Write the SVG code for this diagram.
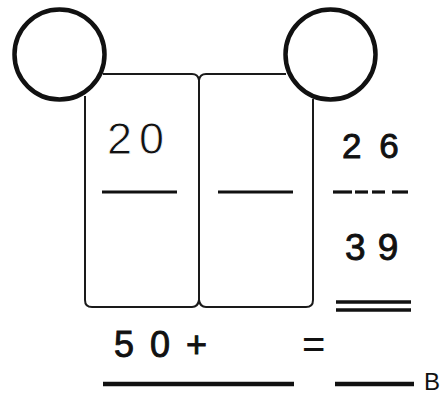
<svg xmlns="http://www.w3.org/2000/svg" width="441" height="397" viewBox="0 0 441 397">
<style>
.c{fill:none;stroke:#111;stroke-width:4.5}
.box{fill:none;stroke:#1a1a1a;stroke-width:2}
.ln{stroke:#111;stroke-width:3.2}
.bl{stroke:#111;stroke-width:4.5}
.t{font-family:"Liberation Sans",Arial,sans-serif;fill:#111}
.b{stroke:#111;stroke-width:0.9}
</style>
<rect width="441" height="397" fill="#fff"/>
<g id="connectors">
<path class="box" d="M103,74 H192 Q198,74 199,80 Q200,74 206,74 H286"/>
<path class="box" d="M85,96 V300 Q85,307 92,307 H192 Q198,307 199,300 Q200,307 206,307 H306 Q313,307 313,300 V99"/>
<path class="box" d="M199,80 V300"/>
</g>
<g id="circle-left"><circle class="c" cx="59.5" cy="54.5" r="45"/></g>
<g id="circle-right"><circle class="c" cx="330.5" cy="54.5" r="45"/></g>
<g id="box-left">
<text class="t" x="107" y="154" font-size="45" letter-spacing="7" style="stroke:#fff;stroke-width:0.8">20</text>
<line class="ln" x1="102" y1="192" x2="177" y2="192"/>
</g>
<g id="box-right">
<line class="ln" x1="218" y1="192" x2="293" y2="192"/>
</g>
<g id="column">
<text class="t b" x="342" y="158" font-size="35" letter-spacing="4">2 6</text>
<g class="ln">
<line x1="333" y1="192" x2="352" y2="192"/>
<line x1="355" y1="192" x2="368" y2="192"/>
<line x1="372" y1="192" x2="385" y2="192"/>
<line x1="392" y1="192" x2="408" y2="192"/>
</g>
<text class="t b" x="345" y="260" font-size="37" letter-spacing="1">3 9</text>
<line class="ln" x1="336" y1="302" x2="411" y2="302" style="stroke-width:3.5"/>
<line class="ln" x1="336" y1="310" x2="411" y2="310" style="stroke-width:3.5"/>
</g>
<g id="equation">
<text class="t b" x="114" y="357" font-size="36" letter-spacing="3">5 0 +</text>
<text class="t" x="302" y="358" font-size="40">=</text>
<line class="bl" x1="103" y1="384" x2="294" y2="384"/>
<line class="bl" x1="335" y1="384" x2="414" y2="384"/>
<text class="t" x="424" y="390" font-size="24">B</text>
</g>
</svg>
